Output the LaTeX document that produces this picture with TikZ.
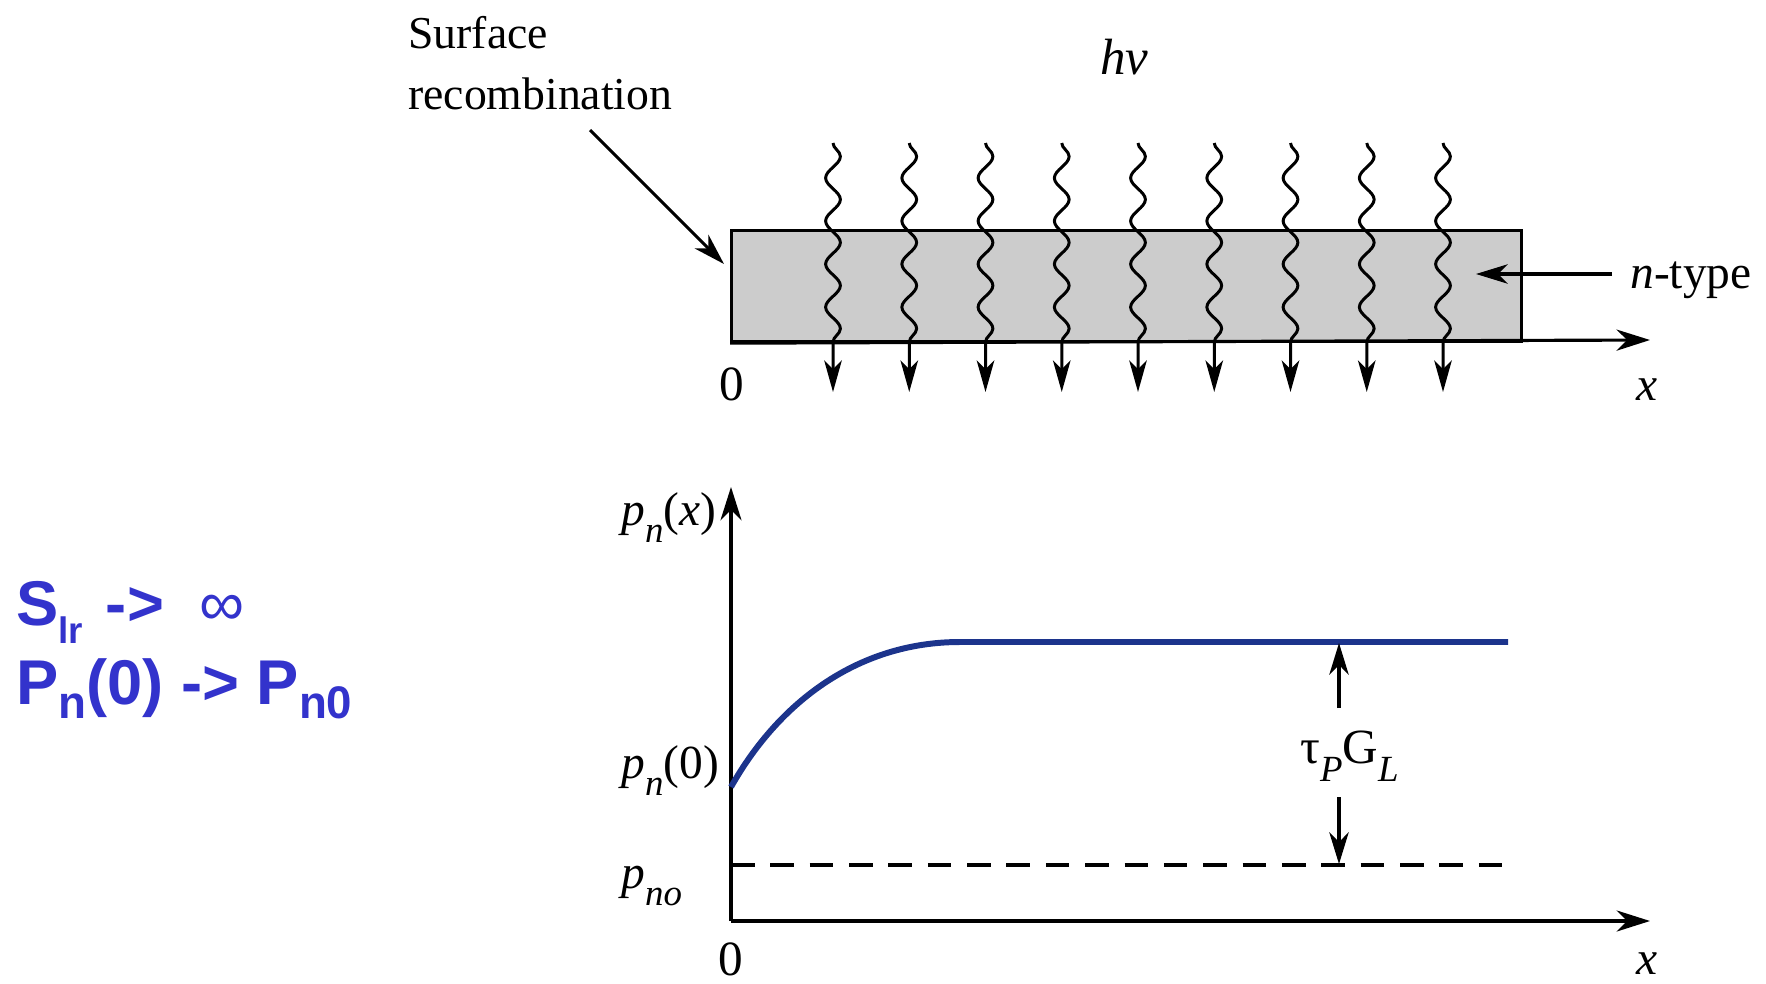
\documentclass[tikz,border=0pt]{standalone}
\usepackage{fontspec}
\setmainfont{Liberation Serif}
\newfontfamily\slidefont{Liberation Sans}
\usetikzlibrary{arrows.meta,decorations.pathmorphing}
\definecolor{slideblue}{RGB}{51,51,204}
\definecolor{curveblue}{RGB}{28,52,140}
\definecolor{slabgray}{RGB}{204,204,204}
\newcommand\isub[1]{\raisebox{-10pt}{\fontsize{21}{21}\selectfont\itshape #1}}
\begin{document}
\begin{tikzpicture}[x=0.02cm,y=-0.02cm,
  lbl/.style={inner sep=0pt, font=\fontsize{27}{30}\selectfont},
  blk/.style={line width=1.8pt, black},
  axisarrow/.style={blk, -{Stealth[length=19pt,width=12pt,inset=6pt]}},
  thinarrow/.style={blk, -{Stealth[length=18pt,width=11pt,inset=5.5pt]}},
  wave/.style={line width=1.7pt, decorate,
     decoration={snake, amplitude=4.2pt, segment length=24.5pt, post length=25pt},
     -{Stealth[length=18pt,width=10pt,inset=5pt]}},
  slab/.style={draw, line width=1.8pt, fill=slabgray, inner sep=0pt, anchor=north west,
     minimum width=15.8cm, minimum height=2.22cm},
  bluetext/.style={inner sep=0pt, anchor=base west, text=slideblue,
     font=\slidefont\bfseries\fontsize{36}{40}\selectfont}
]
\useasboundingbox (0,0) rectangle (1766,984);

% ---------- upper figure ----------
\node[slab] (slab) at (730,229) {};
\coordinate (xaxisend) at (1650,340);
\draw[axisarrow] (slab.south west) -- (xaxisend);

\foreach \i in {0,...,8}{
  \coordinate (wtop\i) at (833+76.25*\i,143);
  \coordinate (wbot\i) at (833+76.25*\i,392);
  \draw[wave] (wtop\i) -- (wbot\i);
}

\node[lbl, anchor=north west, align=left, font=\fontsize{26}{34.7}\selectfont] (surf) at (408,16)
  {Surface\\recombination};
\coordinate (surfstart) at (590,130);
\coordinate (surftip) at (724,264);
\draw[thinarrow] (surfstart) -- (surftip);

\node[lbl, anchor=base west, font=\fontsize{29}{32}\selectfont] (hnu) at (1100,74) {\itshape hν};

\node[lbl, anchor=base west] (ntype) at (1630,288) {\textit{n}-type};
\coordinate (ntypetip) at (1476,274);
\coordinate (ntstart) at (1612,274);
\draw[thinarrow] (ntstart) -- (ntypetip);

\node[lbl, anchor=base, font=\fontsize{28}{30}\selectfont] (zero1) at (732,400) {0};
\node[lbl, anchor=base] (x1) at (1647,400) {\itshape x};

% ---------- lower figure ----------
\coordinate (O) at (731,921);
\coordinate (ytip) at (731,487);
\coordinate (xtip) at (1650,921);
\draw[axisarrow] (O) -- (ytip);
\draw[axisarrow] (O) -- (xtip);

\node[lbl, anchor=base, font=\fontsize{28}{30}\selectfont] (zero2) at (731,975) {0};
\node[lbl, anchor=base] (x2) at (1647,974) {\itshape x};

\node[lbl, anchor=base west] (pnx) at (621,525) {\textit{p}\isub{n}(\textit{x})};
\node[lbl, anchor=base west] (pn0) at (621,778) {\textit{p}\isub{n}(0)};
\node[lbl, anchor=base west] (pno) at (621,888) {\textit{p}\isub{no}};

\coordinate (c0) at (731,787);
\coordinate (c1) at (960,642);
\coordinate (c2) at (1508,642);
\draw[curveblue, line width=3.4pt] (c0) .. controls (780,700) and (860,642) .. (c1) -- (c2);

\coordinate (d0) at (731,865);
\coordinate (d1) at (1503,865);
\draw[blk, line width=1.8pt, dash pattern=on 13.4pt off 9pt] (d0) -- (d1);

\node[lbl, anchor=base west, font=\fontsize{28}{30}\selectfont] (tau) at (1300,763)
  {τ\raisebox{-10.5pt}{\fontsize{21}{21}\selectfont\itshape P}G\raisebox{-10.5pt}{\fontsize{21}{21}\selectfont\itshape L}};
\coordinate (tup0) at (1339,708);
\coordinate (tup1) at (1339,643);
\coordinate (tdn0) at (1339,797);
\coordinate (tdn1) at (1339,864);
\draw[thinarrow] (tup0) -- (tup1);
\draw[thinarrow] (tdn0) -- (tdn1);

% ---------- slide text ----------
\node[bluetext] (line1) at (16,625)
  {S\raisebox{-10.5pt}{\fontsize{21}{21}\selectfont lr}\hspace{13pt}->\hspace{20pt}{\mdseries ∞}};
\node[bluetext] (line2) at (16,704)
  {P\raisebox{-8pt}{\fontsize{26}{26}\selectfont n}(0) -> P\raisebox{-8pt}{\fontsize{26}{26}\selectfont n0}};
\end{tikzpicture}
\end{document}
